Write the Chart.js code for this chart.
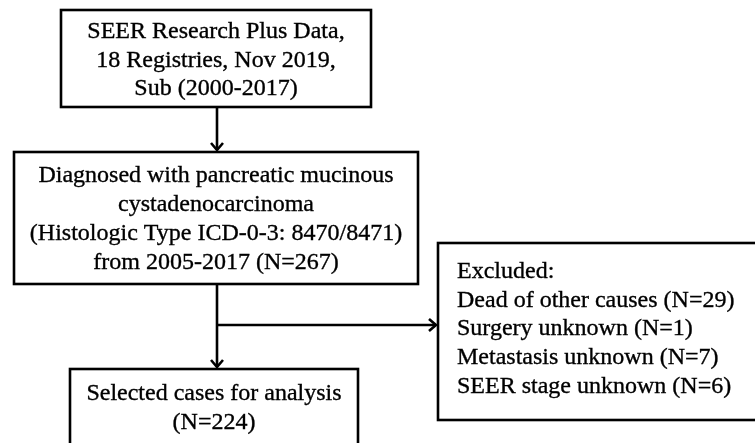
<!DOCTYPE html>
<html>
<head>
<meta charset="utf-8">
<script src="https://cdn.jsdelivr.net/npm/chart.js@4.4.1/dist/chart.umd.min.js"></script>
<style>
  html, body { margin: 0; padding: 0; background: #fff; }
  #wrap { width: 755px; height: 443px; }
</style>
</head>
<body>
<div id="wrap"><canvas id="flow" width="755" height="443"></canvas></div>
<script>
// данные схемы отбора
const sourceLines = ["SEER Research Plus Data,", "18 Registries, Nov 2019,", "Sub (2000-2017)"];
const diagnosedLines = ["Diagnosed with pancreatic mucinous", "cystadenocarcinoma", "(Histologic Type ICD-0-3: 8470/8471)"];
const studyPeriod = "2005-2017";
const diagnosedN = 267;
const excludedReasons = ["Dead of other causes", "Surgery unknown", "Metastasis unknown", "SEER stage unknown"];
const excludedN = [29, 1, 7, 6];
const selectedLabel = "Selected cases for analysis";
const selectedN = 224;

// раскладка блоков (в единицах осей, 0..755 / 0..443)
const layout = {
  source:   { x0: 61,  x1: 371, y0: 10,  y1: 107, align: "center", baseline0: 38,  step: 28.5 },
  diag:     { x0: 14,  x1: 418, y0: 152, y1: 284, align: "center", baseline0: 182, step: 29 },
  excluded: { x0: 438, x1: 757, y0: 243, y1: 420, align: "left",   baseline0: 278, step: 28.7, textX: 457 },
  selected: { x0: 70,  x1: 358, y0: 369, y1: 470, align: "center", baseline0: 400, step: 28.5 }
};
const stemX = 217;
const branchY = 325;

const boxTexts = {
  source: sourceLines,
  diag: [...diagnosedLines, `from ${studyPeriod} (N=${diagnosedN})`],
  excluded: ["Excluded:", ...excludedReasons.map((r, i) => `${r} (N=${excludedN[i]})`)],
  selected: [selectedLabel, `(N=${selectedN})`]
};

const flowPlugin = {
  id: "flow",
  afterDraw(chart) {
    const { ctx, scales: { x, y } } = chart;
    const px = v => x.getPixelForValue(v);
    const py = v => y.getPixelForValue(v);

    ctx.save();
    ctx.font = "24px 'Liberation Serif', 'Times New Roman', serif";
    ctx.textBaseline = "alphabetic";
    ctx.lineJoin = "miter";

    Object.keys(layout).forEach(key => {
      const b = layout[key];
      ctx.strokeStyle = "#000";
      ctx.lineWidth = 2.6;
      ctx.strokeRect(px(b.x0), py(b.y0), px(b.x1) - px(b.x0), py(b.y1) - py(b.y0));
      // текст чуть жирнее, как в оригинале
      ctx.fillStyle = "#000";
      ctx.strokeStyle = "#000";
      ctx.lineWidth = 0.35;
      boxTexts[key].forEach((line, i) => {
        const by = py(b.baseline0 + i * b.step);
        const tx = b.align === "center" ? px((b.x0 + b.x1) / 2) : px(b.textX);
        ctx.textAlign = b.align;
        ctx.fillText(line, tx, by);
        ctx.strokeText(line, tx, by);
      });
    });

    // стрелки
    ctx.strokeStyle = "#000";
    ctx.lineWidth = 2.6;
    const line = (xa, ya, xb, yb) => {
      ctx.beginPath();
      ctx.moveTo(px(xa), py(ya));
      ctx.lineTo(px(xb), py(yb));
      ctx.stroke();
    };
    const headDown = (xx, yy) => {
      ctx.beginPath();
      ctx.moveTo(px(xx) - 6, py(yy) - 9);
      ctx.lineTo(px(xx), py(yy) - 2);
      ctx.lineTo(px(xx) + 6, py(yy) - 9);
      ctx.stroke();
    };
    const headRight = (xx, yy) => {
      ctx.beginPath();
      ctx.moveTo(px(xx) - 9, py(yy) - 6);
      ctx.lineTo(px(xx) - 2, py(yy));
      ctx.lineTo(px(xx) - 9, py(yy) + 6);
      ctx.stroke();
    };

    line(stemX, layout.source.y1, stemX, layout.diag.y0 - 2);
    headDown(stemX, layout.diag.y0);
    line(stemX, layout.diag.y1, stemX, layout.selected.y0 - 2);
    headDown(stemX, layout.selected.y0);
    line(stemX, branchY, layout.excluded.x0 - 2, branchY);
    headRight(layout.excluded.x0, branchY);

    ctx.restore();
  }
};

new Chart(document.getElementById("flow").getContext("2d"), {
  type: "scatter",
  data: { datasets: [{ data: [], pointRadius: 0 }] },
  options: {
    responsive: false,
    animation: false,
    layout: { padding: 0 },
    plugins: { legend: { display: false }, tooltip: { enabled: false } },
    scales: {
      x: { type: "linear", min: 0, max: 755, display: false },
      y: { type: "linear", min: 0, max: 443, reverse: true, display: false }
    }
  },
  plugins: [flowPlugin]
});
</script>
</body>
</html>
